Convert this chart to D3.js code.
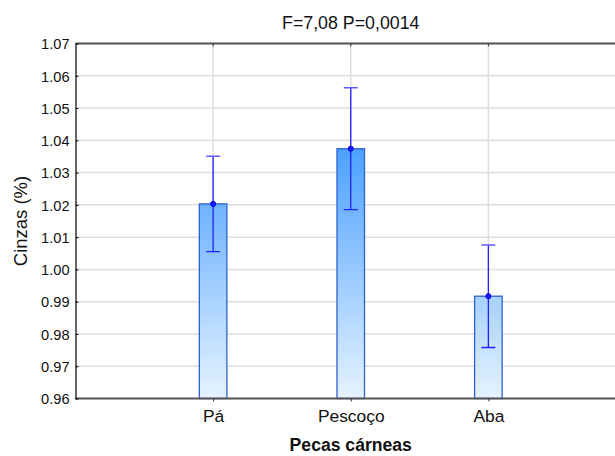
<!DOCTYPE html>
<html>
<head>
<meta charset="utf-8">
<script src="https://cdn.jsdelivr.net/npm/d3@7"></script>
<style>
  html, body { margin: 0; padding: 0; background: #fff; }
  svg { display: block; font-family: "Liberation Sans", Arial, sans-serif; }
</style>
</head>
<body>
<svg id="chart" width="615" height="456"></svg>
<script>
// Mean ash content (%) per meat cut, with 95% confidence half-widths
const categories = ["Pá", "Pescoço", "Aba"];
const means = [1.0203, 1.0374, 0.9917];
const ciHalf = [0.0148, 0.0189, 0.0159];
const yTicks = [0.96, 0.97, 0.98, 0.99, 1.00, 1.01, 1.02, 1.03, 1.04, 1.05, 1.06, 1.07];
const titleText = "F=7,08 P=0,0014";
const yLabel = "Cinzas (%)";
const xLabel = "Pecas cárneas";

const svg = d3.select("#chart");
const plot = { left: 75.5, right: 626, top: 43.5, bottom: 398.5 };

// Categories sit at positions 1..n on a continuous axis with a half-step margin on each side
const x = d3.scaleLinear().domain([0, categories.length + 1]).range([plot.left, plot.right]);
const y = d3.scaleLinear().domain([0.96, 1.07]).range([plot.bottom, plot.top]);
const barW = x(0.2) - x(0);

// Vertical fill gradient shared by all bars (darker near the top of the axis)
const defs = svg.append("defs");
const grad = defs.append("linearGradient")
  .attr("id", "barFill")
  .attr("gradientUnits", "userSpaceOnUse")
  .attr("x1", 0).attr("x2", 0)
  .attr("y1", y(1.038)).attr("y2", y(0.96));
grad.append("stop").attr("offset", "0%").attr("stop-color", "#4aa0ff");
grad.append("stop").attr("offset", "100%").attr("stop-color", "#e6f3ff");

const clip = defs.append("clipPath").attr("id", "plotClip");
clip.append("rect").attr("x", plot.left).attr("y", plot.top - 2)
  .attr("width", plot.right - plot.left).attr("height", plot.bottom - plot.top + 4);

const g = svg.append("g").attr("clip-path", "url(#plotClip)");

// Horizontal gridlines
g.selectAll("line.hgrid").data(yTicks).join("line")
  .attr("class", "hgrid")
  .attr("x1", plot.left).attr("x2", plot.right)
  .attr("y1", d => y(d)).attr("y2", d => y(d))
  .attr("stroke", "#dedede").attr("stroke-width", 1.5);

// Vertical gridlines at each category
g.selectAll("line.vgrid").data(categories).join("line")
  .attr("class", "vgrid")
  .attr("x1", (d, i) => x(i + 1)).attr("x2", (d, i) => x(i + 1))
  .attr("y1", plot.top).attr("y2", plot.bottom)
  .attr("stroke", "#dedede").attr("stroke-width", 1.5);

// Bars
g.selectAll("rect.bar").data(means).join("rect")
  .attr("class", "bar")
  .attr("x", (d, i) => x(i + 1) - barW / 2)
  .attr("width", barW)
  .attr("y", d => y(d))
  .attr("height", d => y(0.96) - y(d))
  .attr("fill", "url(#barFill)")
  .attr("stroke", "#2f62cf").attr("stroke-width", 1.3);

// Error bars
const capW = 14;
const err = g.selectAll("g.err").data(means).join("g").attr("class", "err");
err.append("line")
  .attr("x1", (d, i) => x(i + 1)).attr("x2", (d, i) => x(i + 1))
  .attr("y1", (d, i) => y(d + ciHalf[i])).attr("y2", (d, i) => y(d - ciHalf[i]))
  .attr("stroke", "#2222ff").attr("stroke-width", 1.3);
err.append("line")
  .attr("x1", (d, i) => x(i + 1) - capW / 2).attr("x2", (d, i) => x(i + 1) + capW / 2)
  .attr("y1", (d, i) => y(d + ciHalf[i])).attr("y2", (d, i) => y(d + ciHalf[i]))
  .attr("stroke", "#5c5cff").attr("stroke-width", 1.5);
err.append("line")
  .attr("x1", (d, i) => x(i + 1) - capW / 2).attr("x2", (d, i) => x(i + 1) + capW / 2)
  .attr("y1", (d, i) => y(d - ciHalf[i])).attr("y2", (d, i) => y(d - ciHalf[i]))
  .attr("stroke", "#2222ff").attr("stroke-width", 1.3);
err.append("circle")
  .attr("cx", (d, i) => x(i + 1)).attr("cy", d => y(d))
  .attr("r", 2.6)
  .attr("fill", "#1a1aff").attr("stroke", "#0000cc").attr("stroke-width", 0.8);

// Frame: top border and bottom axis (grey), left axis (black)
svg.append("line")
  .attr("x1", plot.left).attr("x2", plot.right)
  .attr("y1", plot.top).attr("y2", plot.top)
  .attr("stroke", "#555").attr("stroke-width", 1.8);
svg.append("line")
  .attr("x1", plot.left).attr("x2", plot.right)
  .attr("y1", plot.bottom).attr("y2", plot.bottom)
  .attr("stroke", "#555").attr("stroke-width", 1.8);

// Y axis
const yAxis = d3.axisLeft(y).tickValues(yTicks).tickFormat(d3.format(".2f"))
  .tickSizeInner(-3).tickSizeOuter(0).tickPadding(6);
const yG = svg.append("g").attr("transform", `translate(${plot.left},0)`).call(yAxis);
yG.select(".domain").attr("stroke", "#000").attr("stroke-width", 1.2);
yG.selectAll(".tick line").attr("stroke", "#000");
yG.selectAll(".tick text")
  .attr("font-family", "Liberation Sans, Arial, sans-serif")
  .attr("font-size", 14.6).attr("fill", "#111")
  .attr("dy", "0.36em");

// X axis
const xAxis = d3.axisBottom(x).tickValues(categories.map((d, i) => i + 1))
  .tickFormat((d) => categories[d - 1])
  .tickSizeInner(3).tickSizeOuter(0).tickPadding(8);
const xG = svg.append("g").attr("transform", `translate(0,${plot.bottom})`).call(xAxis);
xG.select(".domain").remove();
xG.selectAll(".tick line").attr("stroke", "#333");
xG.selectAll(".tick text")
  .attr("font-family", "Liberation Sans, Arial, sans-serif")
  .attr("font-size", 17.4).attr("fill", "#111");

// Tick marks on the top border at each category
svg.selectAll("line.topTick").data(categories).join("line")
  .attr("class", "topTick")
  .attr("x1", (d, i) => x(i + 1)).attr("x2", (d, i) => x(i + 1))
  .attr("y1", plot.top).attr("y2", plot.top + 3)
  .attr("stroke", "#333");

// Title and axis labels
const cx = (plot.left + plot.right) / 2;
svg.append("text")
  .attr("x", cx).attr("y", 29)
  .attr("text-anchor", "middle")
  .attr("font-size", 17.8).attr("fill", "#111")
  .text(titleText);

svg.append("text")
  .attr("transform", `translate(27,${(plot.top + plot.bottom) / 2}) rotate(-90)`)
  .attr("text-anchor", "middle")
  .attr("font-size", 18.5).attr("fill", "#111")
  .text(yLabel);

svg.append("text")
  .attr("x", cx).attr("y", 451)
  .attr("text-anchor", "middle")
  .attr("font-size", 17.6).attr("font-weight", "bold").attr("fill", "#111")
  .text(xLabel);
</script>
</body>
</html>
